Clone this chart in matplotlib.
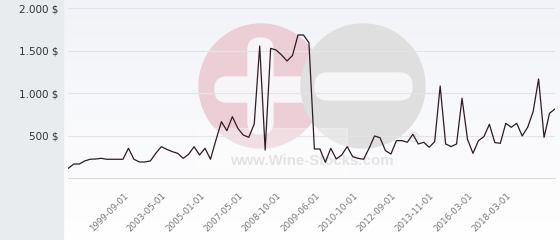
import numpy as np
import matplotlib
matplotlib.use("Agg")
import matplotlib.pyplot as plt
import matplotlib.transforms as mtransforms
from matplotlib.patches import Circle, FancyBboxPatch, Rectangle

# prices, one per auction date (equally spaced categories)
prices = [118, 168, 168, 204, 224, 227, 235, 224, 224, 224,
          224, 353, 224, 192, 192, 204, 294, 372, 341, 314,
          294, 235, 282, 372, 274, 353, 224, 450, 666, 560,
          725, 588, 509, 482, 639, 1556, 333, 1529, 1509, 1451,
          1380, 1445, 1686, 1686, 1596, 345, 345, 188, 353, 227,
          275, 373, 255, 235, 224, 353, 498, 478, 325, 286,
          443, 443, 424, 518, 404, 424, 365, 431, 1086, 404,
          373, 404, 941, 459, 294, 443, 490, 635, 420, 412,
          647, 600, 647, 498, 600, 784, 1169, 482, 765, 816]

tick_labels = ["1999-09-01", "2003-05-01", "2005-01-01", "2007-05-01",
               "2008-10-01", "2009-06-01", "2010-10-01", "2012-09-01",
               "2013-11-01", "2016-03-01", "2018-03-01"]
label_every = 7
first_label = 11

y_ticks = [500, 1000, 1500, 2000]
y_tick_labels = ["500 $", "1.000 $", "1.500 $", "2.000 $"]

W, H = 560, 240
fig = plt.figure(figsize=(W / 100, H / 100), dpi=100)

# background layer in pixel coordinates: gradient, left panel, watermark
bg = fig.add_axes([0, 0, 1, 1])
bg.set_xlim(0, W)
bg.set_ylim(H, 0)
bg.axis("off")
top = np.array([0xf2, 0xf3, 0xf8]) / 255
bot = np.array([1.0, 1.0, 1.0])
t = np.linspace(0, 1, 200)[:, None]
grad = top + (bot - top) * t
bg.imshow(grad[:, None, :].repeat(2, axis=1), extent=(0, W, H, 0), aspect="auto", zorder=0)
bg.add_patch(Rectangle((0, 0), 63, H, color="#e8ecef", zorder=1))

# watermark
bg.add_patch(Circle((261, 86), 62, color="#eccfd6", zorder=2))
bg.add_patch(FancyBboxPatch((215, 77), 100, 25, boxstyle="round,pad=0,rounding_size=12",
                            color="#f7f5f8", zorder=3))
bg.add_patch(FancyBboxPatch((248, 38), 25, 96, boxstyle="round,pad=0,rounding_size=12",
                            color="#f7f5f8", zorder=3))
bg.add_patch(Circle((363, 86), 62, color="#dfdfe0", zorder=4))
bg.add_patch(FancyBboxPatch((315, 73), 97, 27, boxstyle="round,pad=0,rounding_size=13",
                            color="#f6f6f8", zorder=5))
bg.add_patch(Rectangle((197, 128), 150, 45, color="white", alpha=0.3, zorder=5))
bg.text(312, 161, "www.Wine-Stocks.com", ha="center", va="center", fontsize=10.8,
        family="Liberation Sans", fontweight="bold", color="#e4e4e6", zorder=6)
bg.text(413, 139, "®", ha="center", va="center", fontsize=10, color="#dcdcdc", zorder=6)

# main chart
ax = fig.add_axes([68.3 / W, (H - 178.3) / H, (555 - 68.3) / W, (178.3 - 8.3) / H])
ax.patch.set_alpha(0)
x = np.arange(len(prices))
ax.plot(x, prices, color="#2e1b25", lw=0.9, zorder=3)
ax.set_xlim(0, len(prices) - 1)
ax.set_ylim(0, 2000)

ax.set_yticks(y_ticks)
ax.set_yticklabels(y_tick_labels, fontsize=7.5, color="#333333")
ax.tick_params(axis="y", length=0, pad=7)
ax.grid(axis="y", color="#e4e4e6", lw=0.8)

tick_pos = [first_label + label_every * i for i in range(len(tick_labels))]
ax.set_xticks(tick_pos)
ax.set_xticklabels(tick_labels, fontsize=6.3, color="#777777", rotation=45,
                   ha="right", va="top", rotation_mode="anchor")
ax.tick_params(axis="x", length=0, pad=10)
shift = mtransforms.ScaledTranslation(-5 / 100, 1 / 100, fig.dpi_scale_trans)
for lab in ax.get_xticklabels():
    lab.set_transform(lab.get_transform() + shift)

for s in ["top", "right", "left"]:
    ax.spines[s].set_visible(False)
ax.spines["bottom"].set_color("#dcdcdc")
ax.spines["bottom"].set_linewidth(0.8)

fig.savefig("out.png", dpi=100)
